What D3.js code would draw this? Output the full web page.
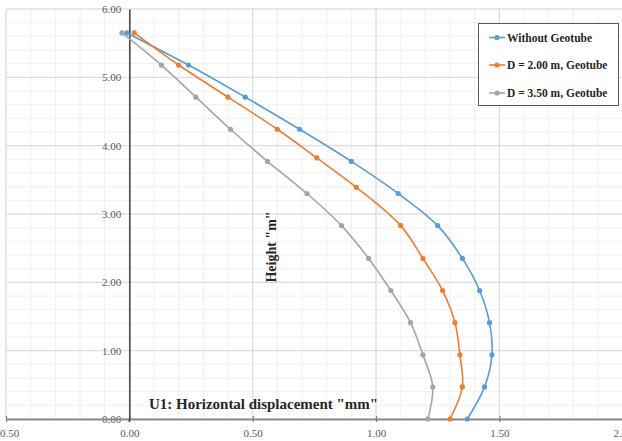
<!DOCTYPE html>
<html><head><meta charset="utf-8">
<script src="https://cdn.jsdelivr.net/npm/d3@7"></script>
<style>
html,body{margin:0;padding:0;background:#fff;}
svg{display:block;}
text{font-family:"Liberation Serif","DejaVu Serif",serif;}
</style></head>
<body>
<svg id="chart" width="622" height="441"></svg>
<script>
const seriesNames = ["Without Geotube", "D = 2.00 m, Geotube", "D = 3.50 m, Geotube"];
const seriesColors = ["#5B9BD5", "#ED7D31", "#A5A5A5"];
const heightBlue   = [5.65,5.18,4.71,4.24,3.77,3.30,2.83,2.35,1.88,1.41,0.94,0.47,0];
const dispBlue     = [-0.01,0.24,0.47,0.69,0.90,1.09,1.25,1.35,1.42,1.46,1.47,1.44,1.37];
const heightOrange = [5.65,5.18,4.71,4.24,3.82,3.39,2.83,2.35,1.88,1.41,0.94,0.47,0];
const dispOrange   = [0.02,0.20,0.40,0.60,0.76,0.92,1.10,1.19,1.27,1.32,1.34,1.35,1.30];
const heightGray   = [5.65,5.18,4.71,4.24,3.77,3.30,2.83,2.35,1.88,1.41,0.94,0.47,0];
const dispGray     = [-0.03,0.13,0.27,0.41,0.56,0.72,0.86,0.97,1.06,1.14,1.19,1.23,1.21];
const xTicks = [-0.5,0,0.5,1,1.5,2];
const yTicks = [0,1,2,3,4,5,6];
const xTitle = 'U1: Horizontal displacement "mm"';
const yTitle = 'Height "m"';

const series = [
  {name: seriesNames[0], color: seriesColors[0], pts: dispBlue.map((d,i)=>[d, heightBlue[i]])},
  {name: seriesNames[1], color: seriesColors[1], pts: dispOrange.map((d,i)=>[d, heightOrange[i]])},
  {name: seriesNames[2], color: seriesColors[2], pts: dispGray.map((d,i)=>[d, heightGray[i]])}
];

const svg = d3.select("#chart");
const x = d3.scaleLinear().domain([-0.5, 2]).range([6, 622.7]);
const y = d3.scaleLinear().domain([0, 6]).range([419, 9]);

// minor gridlines
const xMinor = d3.range(-0.5, 2.001, 0.1).map(v=>+v.toFixed(2));
const yMinor = d3.range(0, 6.001, 0.2).map(v=>+v.toFixed(2));
const grid = svg.append("g");
grid.selectAll(".xm").data(xMinor).join("line")
  .attr("x1", d=>x(d)).attr("x2", d=>x(d)).attr("y1", y(6)).attr("y2", y(0))
  .attr("stroke", "#F0F0F0").attr("stroke-width", 1);
grid.selectAll(".ym").data(yMinor).join("line")
  .attr("x1", x(-0.5)).attr("x2", x(2)).attr("y1", d=>y(d)).attr("y2", d=>y(d))
  .attr("stroke", "#F0F0F0").attr("stroke-width", 1);
// major gridlines
grid.selectAll(".xM").data(xTicks).join("line")
  .attr("x1", d=>x(d)).attr("x2", d=>x(d)).attr("y1", y(6)).attr("y2", y(0))
  .attr("stroke", "#D9D9D9").attr("stroke-width", 1);
grid.selectAll(".yM").data(yTicks).join("line")
  .attr("x1", x(-0.5)).attr("x2", x(2)).attr("y1", d=>y(d)).attr("y2", d=>y(d))
  .attr("stroke", "#D9D9D9").attr("stroke-width", 1);

// y tick labels (drawn before x axis so axis line crosses 0.00)
svg.append("g").selectAll("text").data(yTicks).join("text")
  .attr("x", x(0) - 8).attr("y", d=>y(d)).attr("dy", "0.35em")
  .attr("text-anchor", "end").attr("font-size", "11px").attr("fill", "#595959")
  .text(d=>d3.format(".2f")(d));

// x axis
const xAxis = d3.axisBottom(x).tickValues(xTicks).tickFormat(d3.format(".2f")).tickSizeInner(3).tickSizeOuter(0).tickPadding(7);
const gx = svg.append("g").attr("transform", `translate(0,${y(0)})`).call(xAxis);
gx.select(".domain").attr("stroke", "#8C8C8C").attr("stroke-width", 2);
gx.selectAll(".tick line").attr("stroke", "#7F7F7F").attr("stroke-width", 1.2).attr("y1", -3);
gx.selectAll(".tick text").attr("font-size", "11px").attr("fill", "#595959")
  .attr("font-family", '"Liberation Serif","DejaVu Serif",serif');

// y axis line
const yAxis = d3.axisLeft(y).tickValues([]).tickSizeOuter(0);
const gy = svg.append("g").attr("transform", `translate(${x(0)},0)`).call(yAxis);
gy.select(".domain").attr("stroke", "#404040").attr("stroke-width", 1.5);
svg.append("line").attr("x1", x(0)).attr("x2", x(0)).attr("y1", y(0)).attr("y2", y(0)+3)
  .attr("stroke", "#404040").attr("stroke-width", 1.5);

// series
const line = d3.line().x(d=>x(d[0])).y(d=>y(d[1])).curve(d3.curveCatmullRom.alpha(0.5));
series.forEach(s=>{
  const g = svg.append("g");
  g.append("path").attr("d", line(s.pts)).attr("fill", "none")
    .attr("stroke", s.color).attr("stroke-width", 1.6);
  g.selectAll("circle").data(s.pts).join("circle")
    .attr("cx", d=>x(d[0])).attr("cy", d=>y(d[1])).attr("r", 2.6)
    .attr("fill", s.color);
});

// axis titles
svg.append("text").attr("x", 149).attr("y", 408.5)
  .attr("font-size", "15px").attr("font-weight", "bold").attr("fill", "#262626")
  .attr("textLength", 229).attr("lengthAdjust", "spacingAndGlyphs")
  .text(xTitle);
svg.append("text").attr("transform", "translate(276,247) rotate(-90)")
  .attr("text-anchor", "middle")
  .attr("font-size", "14px").attr("font-weight", "bold").attr("fill", "#262626")
  .text(yTitle);

// legend
const lg = svg.append("g");
lg.append("rect").attr("x", 478.5).attr("y", 23.5).attr("width", 140).attr("height", 82)
  .attr("fill", "#fff").attr("stroke", "#595959").attr("stroke-width", 1);
const legY = [37.5, 65, 93];
series.forEach((s,i)=>{
  lg.append("line").attr("x1", 489).attr("x2", 505).attr("y1", legY[i]).attr("y2", legY[i])
    .attr("stroke", s.color).attr("stroke-width", 1.6);
  lg.append("circle").attr("cx", 497).attr("cy", legY[i]).attr("r", 2.6).attr("fill", s.color);
  lg.append("text").attr("x", 507).attr("y", legY[i]).attr("dy", "0.35em")
    .attr("font-size", "11.5px").attr("font-weight", "bold").attr("fill", "#262626")
    .text(s.name);
});
</script>
</body></html>
